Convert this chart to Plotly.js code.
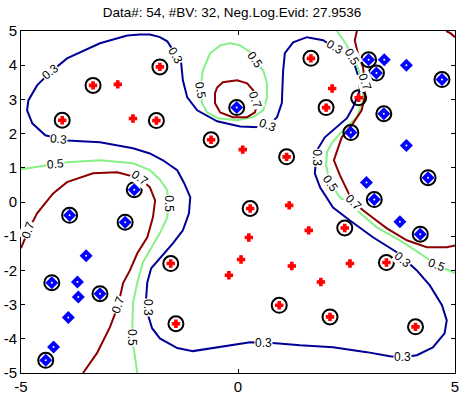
<!DOCTYPE html>
<html><head><meta charset="utf-8">
<script src="https://cdn.plot.ly/plotly-3.0.1.min.js"></script>
<style>html,body{margin:0;padding:0;background:#fff;}</style>
</head><body>
<div id="chart" style="width:464px;height:394px;"></div>
<script>
// ---- data points ----
const redX   = [-2.77, -2.42, 2.17, 0.11, 1.18, 1.63, 0.25, 0.07, 1.24, -0.21, 2.58, 1.91];
const redY   = [3.44, 2.44, 3.32, 1.53, -0.10, -0.83, -1.04, -1.68, -1.87, -2.14, -1.80, -2.34];
const redBvX = [-3.34, -4.05, -1.80, -1.88, -0.62, 1.68, 2.03, 2.78, 1.12, 0.28, -1.55, -1.43, 0.95, 2.12, 2.46, 3.42, 4.09];
const redBvY = [3.41, 2.39, 3.95, 2.38, 1.82, 4.20, 2.76, 3.05, 1.32, -0.19, -1.80, -3.56, -3.02, -3.36, -0.76, -1.77, -3.65];
const blueX   = [3.37, 3.88, 3.88, -3.50, 2.96, 3.73, -3.70, -3.68, -3.91, -4.25];
const blueY   = [4.16, 4.00, 1.65, -1.57, 0.57, -0.58, -2.34, -2.78, -3.38, -4.24];
const blueBvX = [-0.03, 3.01, 3.19, 4.70, 3.36, 2.60, -2.39, -3.88, -2.60, 4.38, 3.14, 4.20, -4.29, -3.18, -4.43];
const blueBvY = [2.76, 4.16, 3.77, 3.58, 2.58, 2.03, 0.36, -0.39, -0.59, 0.71, 0.07, -0.94, -2.36, -2.68, -4.63];

// ---- contour lines (traced) ----
const c03X = [-2.55,-2.26,-2.03,-1.80,-1.63,-1.45,-1.31,-1.27,-1.17,-0.94,-0.48,0.05,0.64,0.90,1.01,1.04,1.08,1.27,1.59,1.96,2.23,2.42,2.69,2.78,2.81,2.65,2.51,2.28,2.00,1.82,1.77,1.89,2.19,2.58,3.11,3.66,4.12,4.42,4.70,4.81,4.76,4.49,4.12,3.80,3.50,2.97,2.19,1.43,0.87,0.28,-0.02,-0.48,-1.04,-1.40,-1.80,-1.98,-2.07,-2.12,-2.09,-2.00,-1.73,-1.50,-1.27,-1.13,-1.10,-1.24,-1.40,-1.73,-2.03,-2.42,-3.18,-3.94,-4.44,-4.74,-4.86,-4.83,-4.63,-4.33,-3.94,-3.18,-2.55];
const c03Y = [4.87,4.90,4.90,4.82,4.70,4.35,4.06,3.56,3.06,2.68,2.36,2.21,2.18,2.48,2.89,3.85,4.35,4.67,4.82,4.73,4.52,4.35,4.00,3.65,3.27,2.77,2.45,2.19,1.89,1.51,0.84,0.43,-0.16,-0.54,-1.03,-1.47,-2.00,-2.44,-3.02,-3.46,-3.84,-4.25,-4.48,-4.54,-4.51,-4.39,-4.25,-4.19,-4.13,-4.10,-4.16,-4.27,-4.36,-4.27,-3.99,-3.69,-3.31,-2.87,-2.35,-1.94,-1.56,-1.21,-0.83,-0.33,0.14,0.55,0.93,1.22,1.42,1.57,1.75,1.80,1.95,2.30,2.68,2.97,3.41,3.79,4.20,4.64,4.87];

const c05aX = [-0.83,-0.81,-0.64,-0.41,-0.18,0.05,0.28,0.39,0.58,0.67,0.67,0.58,0.35,-0.02,-0.46,-0.71,-0.83,-0.87,-0.83];
const c05aY = [3.65,3.85,4.35,4.58,4.64,4.58,4.38,4.14,3.85,3.47,3.06,2.68,2.48,2.39,2.45,2.62,2.89,3.27,3.65];
const c05bX = [-5.0,-4.56,-3.94,-3.18,-2.42,-2.03,-1.80,-1.63,-1.61,-1.63,-1.80,-2.03,-2.19,-2.32,-2.42,-2.44,-2.37,-2.32];
const c05bY = [0.96,1.04,1.16,1.22,1.13,0.93,0.66,0.34,-0.04,-0.45,-0.91,-1.41,-1.76,-2.35,-2.96,-3.95,-4.62,-5.0];
const c05cX = [2.28,2.51,2.62,2.76,2.88,2.88,2.74,2.42,2.16,2.05,2.03,2.12,2.35,2.74,3.20,3.73,4.19,4.58,5.0];
const c05cY = [5.0,4.58,4.23,3.94,3.35,2.97,2.48,2.10,1.72,1.46,1.07,0.55,0.14,-0.24,-0.74,-1.12,-1.50,-1.85,-2.08];

const c07aX = [-0.48,-0.35,-0.02,0.21,0.39,0.44,0.39,0.21,-0.12,-0.41,-0.53,-0.53,-0.48];
const c07aY = [3.35,3.50,3.56,3.47,3.21,2.89,2.62,2.48,2.48,2.62,2.89,3.18,3.35];
const c07bX = [-5.0,-4.83,-4.63,-4.26,-3.94,-3.34,-2.78,-2.26,-2.03,-1.91,-1.96,-2.09,-2.32,-2.49,-2.65,-2.76,-2.95,-3.25,-3.57];
const c07bY = [-1.35,-0.83,-0.33,0.25,0.58,0.84,0.87,0.69,0.43,0.05,-0.45,-1.03,-1.50,-2.00,-2.38,-3.02,-3.66,-4.42,-5.0];
const c07cX = [2.74,2.69,2.76,2.88,2.92,2.92,2.85,2.65,2.39,2.28,2.21,2.35,2.65,2.97,3.43,3.89,4.35,4.81,5.0];
const c07cY = [5.0,4.73,4.35,3.94,3.50,3.06,2.68,2.30,1.89,1.51,1.22,0.78,-0.01,-0.33,-0.77,-1.12,-1.32,-1.32,-1.27];
const c07dX = [4.80,4.90,5.0];
const c07dY = [5.0,4.93,4.82];

// ---- contour labels ----
const lblText = ["0.3","0.3","0.3","0.3","0.3","0.3","0.3","0.3","0.3","0.3",
                 "0.5","0.5","0.5","0.5","0.5","0.5","0.5","0.5",
                 "0.7","0.7","0.7","0.7","0.7","0.7"];
const lblX = [-4.33,-4.14,-1.45,0.67,2.23,1.82,3.80,-2.09,0.58,3.80,
              -4.21,-1.61,-0.87,0.39,2.62,2.12,4.58,-2.44,
              -4.83,-2.26,0.39,2.92,2.65,-2.76];
const lblY = [3.79,1.83,4.29,2.24,4.52,1.28,-1.70,-3.08,-4.13,-4.54,
              1.10,-0.04,3.27,4.14,4.23,0.55,-1.85,-3.95,
              -0.83,0.69,2.97,3.50,-0.01,-3.02];
const lblAng = [-40,5,60,20,30,90,40,90,0,0,
                -5,90,80,55,60,55,20,90,
                -70,35,70,70,45,-70];

const xTicks = [-5, 0, 5];
const yTicks = [-5,-4,-3,-2,-1,0,1,2,3,4,5];
const titleText = "Data#: 54, #BV: 32, Neg.Log.Evid: 27.9536";

const C3 = "rgb(0,0,150)", C5 = "rgb(135,240,135)", C7 = "rgb(140,0,0)";
function line(x, y, c) {
  return {x: x, y: y, type: "scatter", mode: "lines", line: {color: c, width: 2}, hoverinfo: "skip", showlegend: false};
}
const traces = [
  line(c03X, c03Y, C3),
  line(c05aX, c05aY, C5), line(c05bX, c05bY, C5), line(c05cX, c05cY, C5),
  line(c07aX, c07aY, C7), line(c07bX, c07bY, C7), line(c07cX, c07cY, C7), line(c07dX, c07dY, C7),
  {x: redX.concat(redBvX), y: redY.concat(redBvY), type: "scatter", mode: "markers",
   marker: {symbol: "cross", size: 6, color: "#ff0000", line: {width: 1.2, color: "#ff0000"}}, showlegend: false},
  {x: blueX.concat(blueBvX), y: blueY.concat(blueBvY), type: "scatter", mode: "markers",
   marker: {symbol: "diamond", size: 10, color: "#0000ff", line: {width: 0}}, showlegend: false},
  {x: blueX.concat(blueBvX), y: blueY.concat(blueBvY), type: "scatter", mode: "markers",
   marker: {symbol: "circle", size: 2, color: "#ffffff", line: {width: 0}}, showlegend: false},
  {x: redBvX.concat(blueBvX), y: redBvY.concat(blueBvY), type: "scatter", mode: "markers",
   marker: {symbol: "circle-open", size: 15, color: "#000000", line: {width: 2, color: "#000000"}}, showlegend: false}
];

const annotations = lblText.map((t, i) => ({
  x: lblX[i], y: lblY[i], xref: "x", yref: "y", text: t, showarrow: false,
  textangle: lblAng[i], bgcolor: "#ffffff", borderpad: 0,
  font: {family: "Liberation Sans, Arial, sans-serif", size: 12, color: "#000"}
}));

const axisCommon = {
  showgrid: false, zeroline: false, showline: true, linecolor: "#000", linewidth: 1,
  mirror: "ticks", ticks: "inside", ticklen: 4, tickwidth: 1, tickcolor: "#000",
  tickfont: {family: "Liberation Sans, Arial, sans-serif", size: 15, color: "#000"}
};
const layout = {
  width: 464, height: 394,
  margin: {l: 21, r: 9, t: 31, b: 21, pad: 0},
  paper_bgcolor: "#fff", plot_bgcolor: "#fff",
  title: {text: titleText, x: 0.5, xanchor: "center", y: 0.97, yanchor: "middle",
          font: {family: "Liberation Sans, Arial, sans-serif", size: 13.5, color: "#000"}},
  xaxis: Object.assign({}, axisCommon, {range: [-5, 5], tickvals: xTicks, ticktext: xTicks.map(String)}),
  yaxis: Object.assign({}, axisCommon, {range: [-5, 5], tickvals: yTicks, ticktext: yTicks.map(String)}),
  annotations: annotations,
  showlegend: false
};
Plotly.newPlot("chart", traces, layout, {staticPlot: true, displayModeBar: false});
</script>
</body></html>
